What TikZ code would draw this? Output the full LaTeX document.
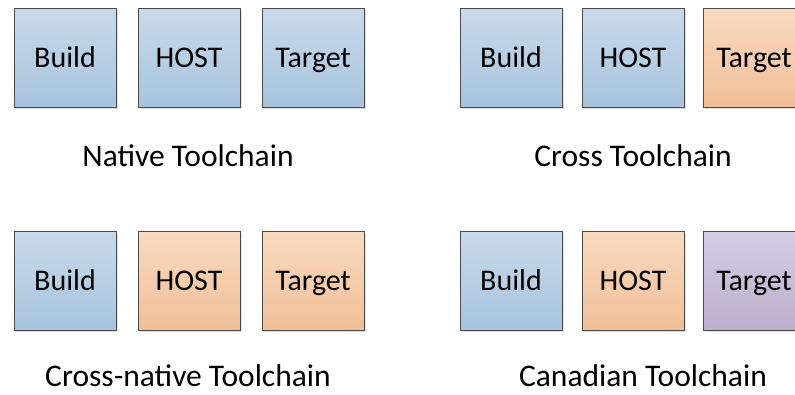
\documentclass[tikz,border=0pt]{standalone}
\usepackage{fontspec}
\setmainfont{Carlito}
\usetikzlibrary{shadows}
\definecolor{bluetop}{HTML}{C8DAEB}
\definecolor{bluebot}{HTML}{A8C4DD}
\definecolor{orgtop}{HTML}{F9DAC0}
\definecolor{orgbot}{HTML}{F1BF98}
\definecolor{purtop}{HTML}{D5CEE2}
\definecolor{purbot}{HTML}{BAAFCD}
\definecolor{edgegray}{HTML}{4A4A4A}
\tikzset{
  box/.style={draw=edgegray, line width=0.9pt, minimum width=102pt, minimum height=99pt,
    inner sep=0pt, text height=19.3pt, text depth=0pt,
    font=\fontsize{30}{36}\selectfont,
    drop shadow={shadow xshift=2pt, shadow yshift=-2pt, fill=black, opacity=0.12}},
  bluebox/.style={box, top color=bluetop, bottom color=bluebot},
  orgbox/.style={box, top color=orgtop, bottom color=orgbot},
  purbox/.style={box, top color=purtop, bottom color=purbot},
  caption/.style={anchor=base, inner sep=0pt, font=\fontsize{31.5}{36}\selectfont}
}
\begin{document}
\begin{tikzpicture}[x=1pt,y=-1pt]
\useasboundingbox (0,0) rectangle (795,394);
\clip (0,0) rectangle (795,394);
% Native
\node[bluebox] (nb) at (65,57.5) {Build};
\node[bluebox] (nh) at (189,57.5) {HOST};
\node[bluebox] (nt) at (313,57.5) {Target};
\node[caption] (nl) at (188,166.5) {Native Toolchain};
% Cross
\node[bluebox] (cb) at (511,57.5) {Build};
\node[bluebox] (ch) at (633,57.5) {HOST};
\node[orgbox] (ct) at (754,57.5) {Target};
\node[caption] (cl) at (633,166.5) {Cross Toolchain};
% Cross-native
\node[bluebox] (xb) at (65,280.5) {Build};
\node[orgbox] (xh) at (189,280.5) {HOST};
\node[orgbox] (xt) at (313,280.5) {Target};
\node[caption] (xl) at (188,386) {Cross-native Toolchain};
% Canadian
\node[bluebox] (kb) at (511,280.5) {Build};
\node[orgbox] (kh) at (633,280.5) {HOST};
\node[purbox] (kt) at (754,280.5) {Target};
\node[caption] (kl) at (643,386) {Canadian Toolchain};
\end{tikzpicture}
\end{document}
